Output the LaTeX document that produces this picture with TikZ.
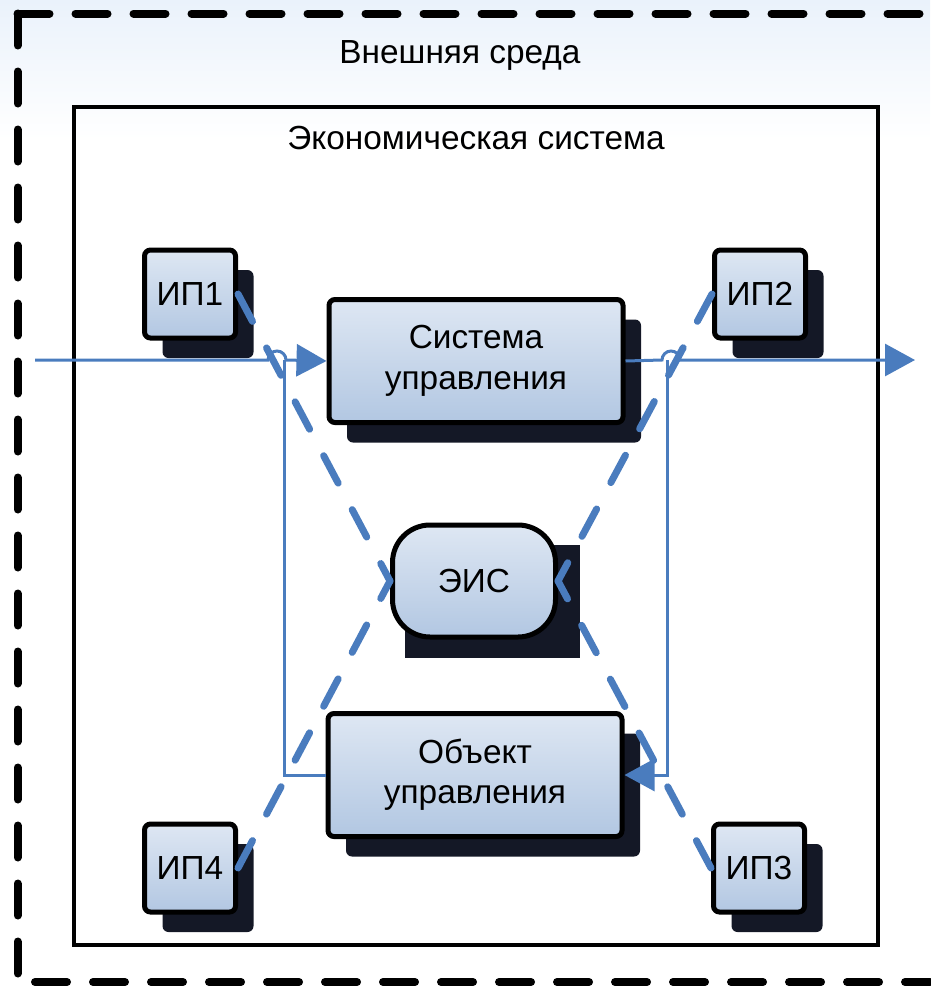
\documentclass[tikz,border=0pt]{standalone}
\usepackage{fontspec}
\setmainfont{Liberation Sans}
\usepackage{tikz}
\usetikzlibrary{arrows.meta,shadows}
\definecolor{linkblue}{RGB}{74,124,190}
\definecolor{boxtop}{RGB}{222,231,243}
\definecolor{boxbot}{RGB}{178,199,226}
\definecolor{shadowc}{RGB}{20,24,38}
\definecolor{bgblue}{RGB}{234,242,251}
\tikzset{
  block/.style={draw=black, line width=1mm, rounded corners=1.2mm,
    top color=boxtop, bottom color=boxbot, align=center,
    font=\fontsize{19}{23}\selectfont,
    drop shadow={shadow xshift=3.6mm, shadow yshift=-4mm, fill=shadowc, opacity=1}},
  ipbox/.style={block, minimum width=18.2mm, minimum height=17.6mm},
  bigbox/.style={block, minimum width=58.8mm, minimum height=24.6mm},
  flow/.style={draw=linkblue, line width=0.6mm},
  info/.style={draw=linkblue, line width=1.4mm, line cap=round,
    dash pattern=on 6.2mm off 6mm},
  tip/.style={-{Triangle[length=6mm,width=6.4mm]}},
  title/.style={font=\fontsize{19}{23}\selectfont}
}
\begin{document}
\begin{tikzpicture}[x=0.2mm, y=-0.2mm]
        \useasboundingbox (0,0) rectangle (930,987);
        \fill[top color=bgblue, bottom color=white] (0,0) rectangle (930,140);

        \draw[line width=1.6mm, line cap=round, dash pattern=on 6.4mm off 5.2mm]
          (17.5,13.5) -- (930,13.5);
        \draw[line width=1.6mm, line cap=round, dash pattern=on 6.4mm off 5.2mm]
          (17.5,13.5) -- (17.5,982) -- (930,982);
        \draw[line width=0.8mm] (74,107) rectangle (878,945);

        \node[title] (env) at (460,55) {Внешняя среда};
        \node[title] (econ) at (476,138) {Экономическая система};

        \node[ipbox] (ip1) at (190,294) {ИП1};
        \node[ipbox] (ip2) at (760,294) {ИП2};
        \node[ipbox] (ip3) at (759,868) {ИП3};
        \node[ipbox] (ip4) at (190,868) {ИП4};

        \node[bigbox] (su) at (476,361) {Система\\управления};
        \node[bigbox] (ou) at (475,775) {Объект\\управления};

        \fill[shadowc] (405,545) rectangle (580,658);
        \node[block, drop shadow={opacity=0}, rounded corners=7.5mm,
          minimum width=32.6mm, minimum height=22.4mm] (eis) at (474,581) {ЭИС};

        \coordinate (in) at (35,360);
        \coordinate (out) at (915,360);
        \coordinate (j1) at (284,360);
        \coordinate (j2) at (667,360);

        \draw[flow, tip] (in) -- (268,360) arc[start angle=180, end angle=0, radius=1.8mm]
          -- (su.west);
        \draw[flow, tip] (su.east) -- (662,360) arc[start angle=180, end angle=0, radius=1.8mm]
          -- (out);
        \draw[flow] (j1) |- (ou.west);
        \draw[flow, tip] (j2) |- (ou.east);

        \draw[info] (ip1.east) -- (eis.west);
        \draw[info] (ip4.east) -- (eis.west);
        \draw[info] (ip2.west) -- (eis.east);
        \draw[info] (ip3.west) -- (eis.east);
      \end{tikzpicture}
\end{document}
